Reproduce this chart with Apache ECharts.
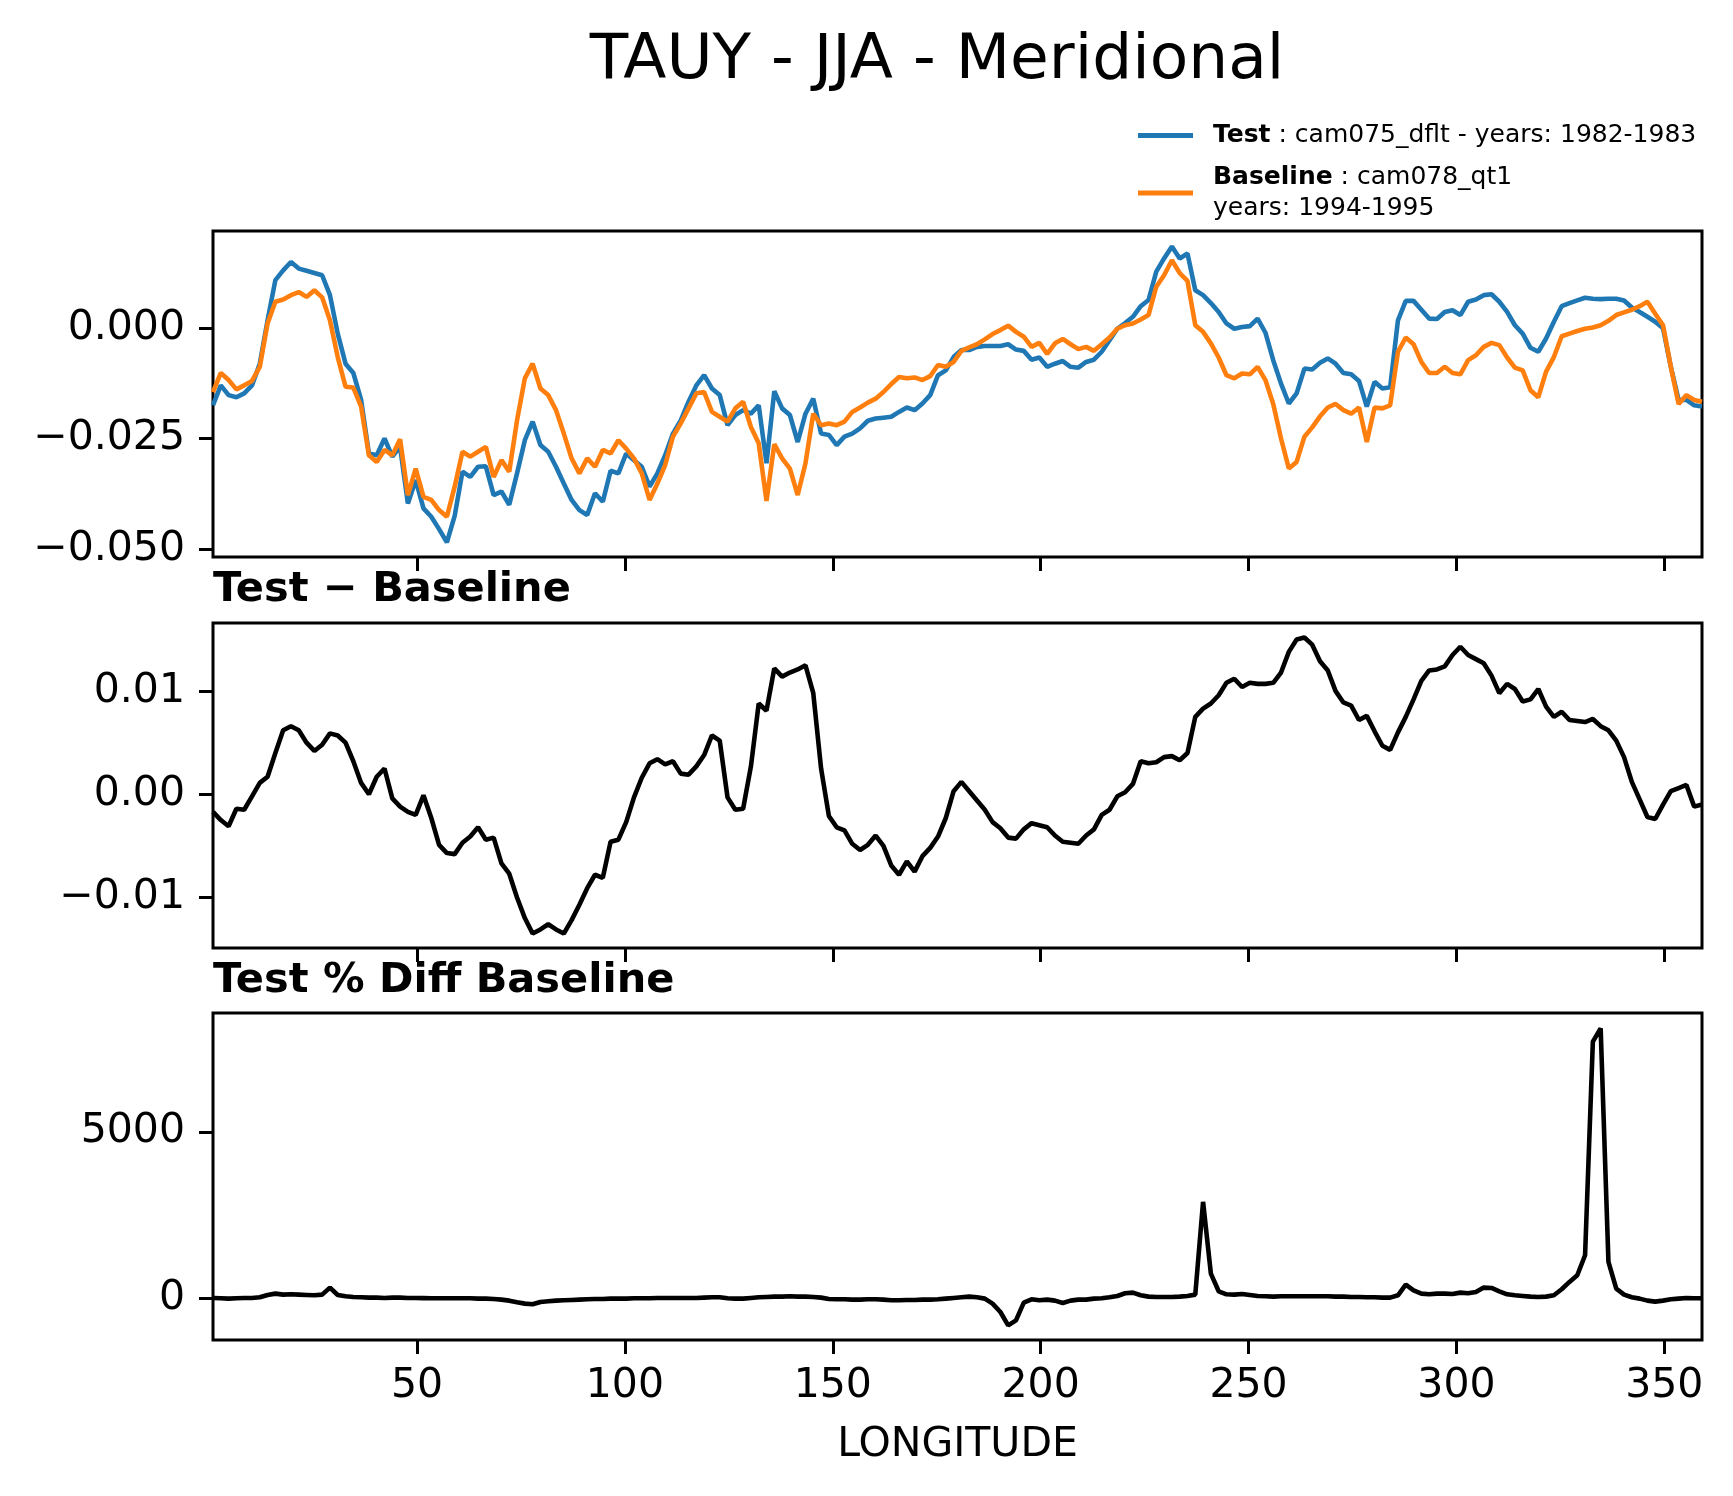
<!DOCTYPE html>
<html>
<head>
<meta charset="utf-8">
<title>TAUY - JJA - Meridional</title>
<script src="https://cdn.jsdelivr.net/npm/echarts@6.0.0/dist/echarts.min.js"></script>
<style>
    html, body { margin: 0; padding: 0; background: #fff; }
    #main { width: 1733px; height: 1496px; }
</style>
</head>
<body>
<div id="main"></div>
<script>
// longitude grid of the zonal means (1.875 deg)
var lon = [];
for (var k = 0; k < 192; k++) {
    lon.push(0.9375 + 1.875 * k);
}

// TAUY, test case
var test = [
    -0.0175, -0.0130, -0.0152, -0.0157, -0.0148, -0.0130, -0.0081, 0.0017, 0.0108, 0.0130, 0.0149, 0.0134,
    0.0129, 0.0124, 0.0119, 0.0074, -0.0013, -0.0081, -0.0102, -0.0163, -0.0284, -0.0288, -0.0250, -0.0291,
    -0.0269, -0.0397, -0.0344, -0.0408, -0.0427, -0.0455, -0.0485, -0.0425, -0.0325, -0.0337, -0.0314, -0.0313,
    -0.0378, -0.0370, -0.0400, -0.0329, -0.0254, -0.0212, -0.0265, -0.0280, -0.0314, -0.0352, -0.0389, -0.0412,
    -0.0423, -0.0374, -0.0393, -0.0323, -0.0329, -0.0284, -0.0299, -0.0314, -0.0359, -0.0329, -0.0288, -0.0239,
    -0.0209, -0.0167, -0.0130, -0.0107, -0.0137, -0.0152, -0.0220, -0.0197, -0.0186, -0.0194, -0.0175, -0.0306,
    -0.0143, -0.0182, -0.0197, -0.0258, -0.0194, -0.0160, -0.0239, -0.0242, -0.0265, -0.0246, -0.0239, -0.0227,
    -0.0210, -0.0205, -0.0203, -0.0201, -0.0190, -0.0180, -0.0186, -0.0171, -0.0152, -0.0107, -0.0096, -0.0066,
    -0.0050, -0.0050, -0.0043, -0.0041, -0.0041, -0.0041, -0.0037, -0.0049, -0.0052, -0.0072, -0.0067, -0.0088,
    -0.0081, -0.0075, -0.0088, -0.0090, -0.0077, -0.0072, -0.0054, -0.0028, -0.0002, 0.0011, 0.0025, 0.0049,
    0.0063, 0.0127, 0.0157, 0.0184, 0.0157, 0.0168, 0.0085, 0.0074, 0.0056, 0.0036, 0.0010, -0.0002,
    0.0002, 0.0004, 0.0021, -0.0011, -0.0073, -0.0126, -0.0171, -0.0148, -0.0092, -0.0094, -0.0079, -0.0069,
    -0.0081, -0.0102, -0.0105, -0.0120, -0.0178, -0.0122, -0.0137, -0.0134, 0.0017, 0.0061, 0.0061, 0.0041,
    0.0021, 0.0020, 0.0036, 0.0040, 0.0029, 0.0059, 0.0064, 0.0074, 0.0076, 0.0059, 0.0036, 0.0006,
    -0.0013, -0.0045, -0.0054, -0.0024, 0.0014, 0.0049, 0.0056, 0.0062, 0.0068, 0.0066, 0.0065, 0.0066,
    0.0066, 0.0062, 0.0046, 0.0036, 0.0025, 0.0014, -0.0001, -0.0088, -0.0163, -0.0163, -0.0175, -0.0178
];

// TAUY, baseline case
var baseline = [
    -0.0145, -0.0102, -0.0118, -0.0139, -0.0130, -0.0120, -0.0088, 0.0010, 0.0059, 0.0064, 0.0074, 0.0081,
    0.0070, 0.0085, 0.0069, 0.0017, -0.0066, -0.0133, -0.0135, -0.0178, -0.0288, -0.0303, -0.0276, -0.0288,
    -0.0252, -0.0378, -0.0318, -0.0382, -0.0389, -0.0412, -0.0427, -0.0359, -0.0280, -0.0291, -0.0280, -0.0269,
    -0.0337, -0.0299, -0.0325, -0.0209, -0.0114, -0.0081, -0.0137, -0.0152, -0.0186, -0.0239, -0.0295, -0.0329,
    -0.0295, -0.0314, -0.0276, -0.0284, -0.0254, -0.0273, -0.0295, -0.0329, -0.0389, -0.0352, -0.0310, -0.0246,
    -0.0216, -0.0182, -0.0148, -0.0145, -0.0190, -0.0201, -0.0212, -0.0182, -0.0167, -0.0224, -0.0261, -0.0391,
    -0.0263, -0.0295, -0.0318, -0.0378, -0.0306, -0.0194, -0.0220, -0.0216, -0.0220, -0.0212, -0.0190, -0.0180,
    -0.0169, -0.0160, -0.0145, -0.0127, -0.0111, -0.0114, -0.0112, -0.0118, -0.0109, -0.0084, -0.0088, -0.0077,
    -0.0052, -0.0044, -0.0037, -0.0026, -0.0014, -0.0005, 0.0005, -0.0009, -0.0020, -0.0043, -0.0034, -0.0059,
    -0.0035, -0.0025, -0.0037, -0.0048, -0.0043, -0.0052, -0.0037, -0.0022, -0.0002, 0.0006, 0.0010, 0.0019,
    0.0029, 0.0093, 0.0119, 0.0153, 0.0124, 0.0106, 0.0006, -0.0009, -0.0035, -0.0067, -0.0107, -0.0114,
    -0.0103, -0.0105, -0.0088, -0.0118, -0.0172, -0.0250, -0.0318, -0.0303, -0.0246, -0.0225, -0.0200, -0.0180,
    -0.0172, -0.0186, -0.0194, -0.0180, -0.0258, -0.0180, -0.0182, -0.0175, -0.0054, -0.0022, -0.0037, -0.0077,
    -0.0102, -0.0102, -0.0088, -0.0102, -0.0105, -0.0073, -0.0062, -0.0043, -0.0034, -0.0039, -0.0067, -0.0090,
    -0.0096, -0.0141, -0.0157, -0.0099, -0.0066, -0.0019, -0.0013, -0.0007, -0.0002, 0.0001, 0.0006, 0.0016,
    0.0029, 0.0035, 0.0041, 0.0049, 0.0059, 0.0032, 0.0006, -0.0088, -0.0172, -0.0152, -0.0163, -0.0167
];

// Test - Baseline
var diff = [
    -0.0017, -0.0025, -0.0031, -0.0014, -0.0015, -0.0002, 0.0011, 0.0017, 0.0040, 0.0062, 0.0066, 0.0062,
    0.0050, 0.0042, 0.0048, 0.0059, 0.0057, 0.0050, 0.0032, 0.0011, 0.0000, 0.0017, 0.0025, -0.0004,
    -0.0012, -0.0017, -0.0020, -0.0001, -0.0023, -0.0049, -0.0057, -0.0058, -0.0047, -0.0041, -0.0032, -0.0044,
    -0.0042, -0.0067, -0.0077, -0.0100, -0.0120, -0.0135, -0.0131, -0.0126, -0.0131, -0.0135, -0.0122, -0.0107,
    -0.0091, -0.0078, -0.0081, -0.0046, -0.0044, -0.0027, -0.0003, 0.0016, 0.0030, 0.0034, 0.0029, 0.0032,
    0.0020, 0.0019, 0.0027, 0.0038, 0.0057, 0.0052, -0.0003, -0.0015, -0.0014, 0.0027, 0.0088, 0.0081,
    0.0122, 0.0114, 0.0118, 0.0121, 0.0125, 0.0098, 0.0025, -0.0021, -0.0032, -0.0035, -0.0048, -0.0054,
    -0.0049, -0.0040, -0.0050, -0.0069, -0.0078, -0.0065, -0.0075, -0.0060, -0.0052, -0.0041, -0.0023, 0.0003,
    0.0012, 0.0003, -0.0006, -0.0015, -0.0027, -0.0033, -0.0042, -0.0043, -0.0034, -0.0028, -0.0030, -0.0032,
    -0.0040, -0.0046, -0.0047, -0.0048, -0.0040, -0.0034, -0.0020, -0.0015, -0.0002, 0.0002, 0.0010, 0.0032,
    0.0030, 0.0031, 0.0036, 0.0037, 0.0033, 0.0040, 0.0075, 0.0083, 0.0088, 0.0096, 0.0108, 0.0112,
    0.0104, 0.0108, 0.0107, 0.0107, 0.0108, 0.0118, 0.0138, 0.0150, 0.0152, 0.0145, 0.0129, 0.0120,
    0.0100, 0.0089, 0.0086, 0.0072, 0.0076, 0.0061, 0.0047, 0.0043, 0.0060, 0.0075, 0.0092, 0.0110,
    0.0120, 0.0121, 0.0124, 0.0135, 0.0143, 0.0135, 0.0131, 0.0127, 0.0115, 0.0098, 0.0107, 0.0102,
    0.0090, 0.0092, 0.0102, 0.0085, 0.0075, 0.0080, 0.0072, 0.0071, 0.0070, 0.0073, 0.0066, 0.0062,
    0.0052, 0.0036, 0.0012, -0.0005, -0.0022, -0.0024, -0.0010, 0.0003, 0.0006, 0.0009, -0.0012, -0.0010
];

// Test % Diff Baseline
var pctDiff = [
    20, 10, 0, 10, 20, 20, 40, 110, 150, 120, 130, 120,
    110, 100, 120, 330, 110, 70, 50, 40, 30, 30, 20, 30,
    30, 20, 20, 15, 10, 10, 10, 10, 10, 10, 0, 0,
    -10, -30, -60, -110, -150, -170, -100, -80, -60, -50, -40, -30,
    -20, -10, -10, 0, 0, 0, 10, 10, 10, 20, 20, 20,
    20, 20, 20, 30, 40, 40, 10, 0, 0, 20, 40, 50,
    60, 60, 70, 60, 60, 50, 30, -10, -20, -20, -30, -30,
    -20, -20, -30, -50, -50, -40, -40, -30, -30, -20, 0, 20,
    40, 60, 40, 0, -150, -400, -800, -650, -120, -20, -50, -30,
    -60, -130, -60, -30, -30, 0, 10, 40, 80, 160, 180, 100,
    60, 50, 50, 50, 60, 80, 120, 2900, 750, 220, 130, 120,
    140, 110, 80, 70, 60, 70, 70, 70, 70, 70, 70, 70,
    60, 60, 50, 50, 40, 40, 30, 30, 100, 420, 250, 150,
    130, 150, 150, 140, 180, 160, 200, 330, 320, 220, 130, 100,
    80, 60, 50, 60, 100, 280, 500, 700, 1300, 7700, 8100, 1100,
    300, 120, 40, 0, -60, -90, -60, -20, 0, 20, 10, 10
];

var xTicks = [50, 100, 150, 200, 250, 300, 350];
var yTicksTop = [-0.05, -0.025, 0];
var yTicksMid = [-0.01, 0, 0.01];
var yTicksBot = [0, 5000];

var FONT = 'DejaVu Sans';
var TICK_FONT = 41;

function pairs(xs, ys) {
    var out = [];
    for (var i = 0; i < xs.length; i++) {
        out.push([xs[i], ys[i]]);
    }
    return out;
}

function minus(s) {
    return s.replace('-', '\u2212');
}

function xAxisFor(idx, withLabels) {
    return {
        type: 'value',
        gridIndex: idx,
        min: lon[0],
        max: lon[lon.length - 1],
        axisLine: {show: false, onZero: false},
        splitLine: {show: false},
        axisTick: {
            show: true,
            customValues: xTicks,
            length: 14,
            lineStyle: {color: '#000', width: 3}
        },
        axisLabel: {
            show: withLabels,
            customValues: xTicks,
            margin: 26,
            color: '#000',
            fontSize: TICK_FONT,
            fontFamily: FONT
        },
        name: withLabels ? 'LONGITUDE' : '',
        nameLocation: 'middle',
        nameGap: 85,
        nameTextStyle: {color: '#000', fontSize: TICK_FONT, fontFamily: FONT}
    };
}

function yAxisFor(idx, lo, hi, ticks, fmt) {
    return {
        type: 'value',
        gridIndex: idx,
        min: lo,
        max: hi,
        axisLine: {show: false, onZero: false},
        splitLine: {show: false},
        axisTick: {
            show: true,
            customValues: ticks,
            length: 14,
            lineStyle: {color: '#000', width: 3}
        },
        axisLabel: {
            customValues: ticks,
            margin: 28,
            color: '#000',
            fontSize: TICK_FONT,
            fontFamily: FONT,
            formatter: fmt
        }
    };
}

function gridFor(top, height) {
    return {
        left: 213,
        right: 31,
        top: top,
        height: height,
        show: true,
        borderColor: '#000',
        borderWidth: 3,
        backgroundColor: 'transparent'
    };
}

var chart = echarts.init(document.getElementById('main'), null, {renderer: 'canvas'});

var option = {
    animation: false,
    backgroundColor: '#fff',
    title: [{
        text: 'TAUY - JJA - Meridional',
        left: 937,
        top: 30,
        textAlign: 'center',
        padding: 0,
        textStyle: {color: '#000', fontSize: 63, fontWeight: 'normal', fontFamily: FONT}
    }, {
        text: 'Test \u2212 Baseline',
        left: 213,
        top: 569,
        padding: 0,
        textStyle: {color: '#000', fontSize: 41.5, fontWeight: 'bold', fontFamily: FONT}
    }, {
        text: 'Test % Diff Baseline',
        left: 213,
        top: 960,
        padding: 0,
        textStyle: {color: '#000', fontSize: 41.5, fontWeight: 'bold', fontFamily: FONT}
    }],
    legend: {
        orient: 'vertical',
        left: 1138,
        top: 120,
        padding: 0,
        itemGap: 11,
        itemWidth: 55,
        itemHeight: 5,
        icon: 'rect',
        data: ['Test', 'Baseline'],
        formatter: function (name) {
            if (name === 'Test') {
                return '{b|Test}{t| : cam075_dflt - years: 1982-1983}';
            }
            return '{b|Baseline}{t| : cam078_qt1}\n{y|years: 1994-1995}';
        },
        textStyle: {
            color: '#000',
            fontSize: 25,
            lineHeight: 31,
            fontFamily: FONT,
            rich: {
                b: {fontWeight: 'bold', fontSize: 25, lineHeight: 31, fontFamily: FONT, padding: [0, 0, 0, 15]},
                t: {fontSize: 25, lineHeight: 31, fontFamily: FONT},
                y: {fontSize: 25, lineHeight: 31, fontFamily: FONT, padding: [0, 0, 0, 15]}
            }
        }
    },
    grid: [
        gridFor(231, 326),
        gridFor(623, 325),
        gridFor(1013, 327)
    ],
    xAxis: [
        xAxisFor(0, false),
        xAxisFor(1, false),
        xAxisFor(2, true)
    ],
    yAxis: [
        yAxisFor(0, -0.0518, 0.0219, yTicksTop, function (v) { return minus(v.toFixed(3)); }),
        yAxisFor(1, -0.0149, 0.0166, yTicksMid, function (v) { return minus(v.toFixed(2)); }),
        yAxisFor(2, -1240, 8560, yTicksBot, function (v) { return String(v); })
    ],
    series: [{
        name: 'Test',
        type: 'line',
        xAxisIndex: 0,
        yAxisIndex: 0,
        showSymbol: false,
        symbol: 'none',
        color: '#1f77b4',
        lineStyle: {color: '#1f77b4', width: 4.6},
        data: pairs(lon, test)
    }, {
        name: 'Baseline',
        type: 'line',
        xAxisIndex: 0,
        yAxisIndex: 0,
        showSymbol: false,
        symbol: 'none',
        color: '#ff7f0e',
        lineStyle: {color: '#ff7f0e', width: 4.6},
        data: pairs(lon, baseline)
    }, {
        name: 'diff',
        type: 'line',
        xAxisIndex: 1,
        yAxisIndex: 1,
        showSymbol: false,
        symbol: 'none',
        lineStyle: {color: '#000', width: 4.6},
        data: pairs(lon, diff)
    }, {
        name: 'pct',
        type: 'line',
        xAxisIndex: 2,
        yAxisIndex: 2,
        showSymbol: false,
        symbol: 'none',
        lineStyle: {color: '#000', width: 4.6},
        data: pairs(lon, pctDiff)
    }]
};

chart.setOption(option);
</script>
</body>
</html>
